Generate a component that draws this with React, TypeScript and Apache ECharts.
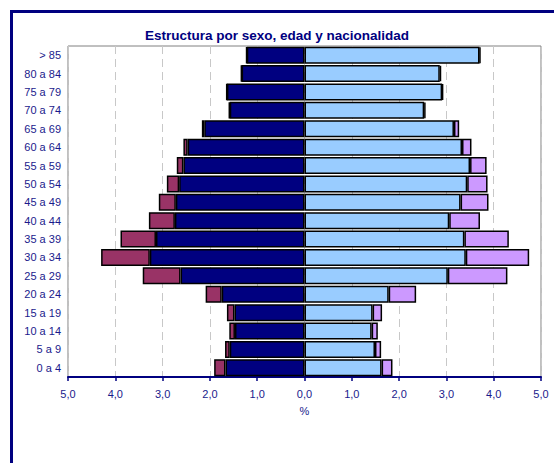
import React, { useEffect, useRef } from "react";
import * as echarts from "echarts";

const ageGroups = [
  "0 a 4", "5 a 9", "10 a 14", "15 a 19", "20 a 24", "25 a 29", "30 a 34", "35 a 39", "40 a 44",
  "45 a 49", "50 a 54", "55 a 59", "60 a 64", "65 a 69", "70 a 74", "75 a 79", "80 a 84", "> 85",
];
const menNational = [1.67, 1.58, 1.47, 1.48, 1.75, 2.62, 3.27, 3.14, 2.74, 2.72, 2.65, 2.56, 2.47, 2.12, 1.58, 1.64, 1.33, 1.22];
const menForeign = [0.24, 0.10, 0.12, 0.16, 0.34, 0.80, 1.03, 0.75, 0.55, 0.36, 0.26, 0.14, 0.09, 0.05, 0.02, 0.01, 0.01, 0.01];
const womenNational = [1.63, 1.49, 1.42, 1.44, 1.78, 3.03, 3.41, 3.38, 3.06, 3.30, 3.44, 3.50, 3.33, 3.16, 2.53, 2.91, 2.86, 3.70];
const womenForeign = [0.23, 0.13, 0.13, 0.20, 0.58, 1.26, 1.34, 0.94, 0.65, 0.59, 0.43, 0.35, 0.20, 0.11, 0.03, 0.02, 0.03, 0.02];

const NAVY = "#000080";
const LABEL = "#1a1a8c";
const FONT = "Arial, 'Liberation Sans', sans-serif";

export default function App() {
  const ref = useRef<HTMLDivElement>(null);
  useEffect(() => {
    if (!ref.current) return;
    const chart = echarts.init(ref.current, null, { renderer: "svg" });
    const barBase = {
      type: "bar" as const,
      barWidth: 17,
      barGap: "-100%",
      itemStyle: { borderColor: "#000", borderWidth: 1.5 },
    };
    chart.setOption({
      animation: false,
      backgroundColor: "#fff",
      textStyle: { fontFamily: FONT },
      title: {
        text: "Estructura por sexo, edad y nacionalidad",
        left: "center",
        top: 23,
        textStyle: { color: NAVY, fontSize: 13.5, fontWeight: "bold", fontFamily: FONT },
      },
      graphic: [
        {
          type: "rect",
          shape: { x: 11.5, y: 11.5, width: 700, height: 700 },
          style: { fill: "none", stroke: NAVY, lineWidth: 3 },
          silent: true,
          z: 100,
        },
      ],
      grid: {
        left: 68,
        right: 13,
        top: 46,
        bottom: 86,
        show: true,
        borderColor: "#808080",
        borderWidth: 1,
        backgroundColor: "#fff",
      },
      xAxis: {
        type: "value",
        min: -5,
        max: 5,
        interval: 1,
        name: "%",
        nameLocation: "middle",
        nameGap: 28,
        nameTextStyle: { color: LABEL, fontSize: 11, fontFamily: FONT },
        axisLine: { show: true, onZero: false, lineStyle: { color: NAVY, width: 2 } },
        axisTick: { show: true, length: 4, lineStyle: { color: NAVY, width: 1.5 } },
        axisLabel: {
          color: LABEL,
          fontSize: 11,
          fontFamily: FONT,
          margin: 11,
          formatter: (v: number) => Math.abs(v).toFixed(1).replace(".", ","),
        },
        splitLine: { show: true, lineStyle: { color: "#c8c8c8", type: [8, 5], width: 1 } },
      },
      yAxis: {
        type: "category",
        data: ageGroups,
        axisLine: { show: false },
        axisTick: { show: false },
        axisLabel: { color: LABEL, fontSize: 11, fontFamily: FONT, margin: 7 },
        splitLine: { show: false },
      },
      series: [
        { ...barBase, name: "Hombres nacionales", stack: "men", data: menNational.map((v) => -v), itemStyle: { ...barBase.itemStyle, color: NAVY } },
        { ...barBase, name: "Hombres extranjeros", stack: "men", data: menForeign.map((v) => -v), itemStyle: { ...barBase.itemStyle, color: "#993366" } },
        { ...barBase, name: "Mujeres nacionales", stack: "women", data: womenNational, itemStyle: { ...barBase.itemStyle, color: "#99CCFF" } },
        { ...barBase, name: "Mujeres extranjeras", stack: "women", data: womenForeign, itemStyle: { ...barBase.itemStyle, color: "#CC99FF" } },
      ],
    });
    return () => chart.dispose();
  }, []);
  return (
    <div
      ref={ref}
      style={{ position: "absolute", left: 0, top: 0, width: 554, height: 463 }}
    />
  );
}
